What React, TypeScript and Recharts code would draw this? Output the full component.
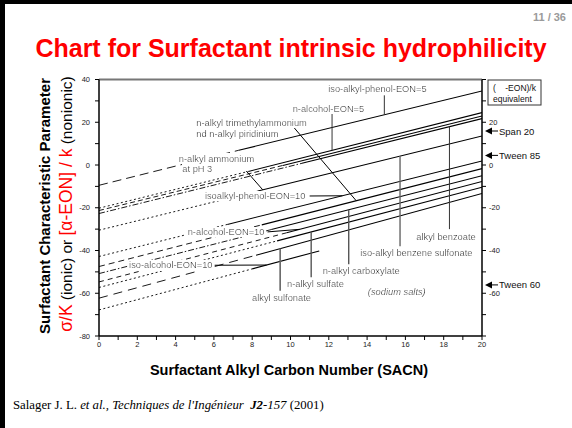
import React from 'react';
import { LineChart, Line, XAxis, YAxis, ReferenceLine, ReferenceDot } from 'recharts';

// ---- line data ----
const seriesNames = [
  'iso-alkyl-phenol-EON=5',
  'n-alcohol-EON=5',
  'n-alkyl piridinium',
  'alkyl benzoate',
  'iso-alkyl benzene sulfonate',
  'isoalkyl-phenol-EON=10',
  'n-alkyl trimethylammonium',
  'n-alkyl carboxylate',
  'n-alcohol-EON=10',
  'n-alkyl sulfate',
  'alkyl sulfonate',
  'iso-alcohol-EON=10',
];
const valueAtZero = [-9.5, -20.2, -21.3, -22.7, -30.5, -42.8, -47.5, -50.8, -54.7, -57.3, -62.3, -67.8];
const solidFromX = [7.3, 7.8, 9.6, 10.6, 8.3, 6.7, 8.5, 9.0, 9.8, 9.3, 8.2, 8.0];
const valueAtSolidFrom = [6.9, -3.0, -0.2, 0.8, -12.2, -27.8, -28.0, -30.2, -31.7, -35.5, -42.2, -48.6];
const solidToX = [20, 20, 20, 20, 20, 20, 20, 20, 20, 20, 20, 11.5];
const valueAtSolidTo = [34.6, 24.5, 22.9, 21.7, 13.6, 1.9, -1.7, -5.0, -7.7, -10.4, -13.3, -40.2];

// ---- annotation texts ----
const labelTexts = [
  'iso-alkyl-phenol-EON=5',
  'n-alcohol-EON=5',
  'n-alkyl trimethylammonium',
  'nd n-alkyl piridinium',
  'n-alkyl ammonium',
  'at pH 3',
  'isoalkyl-phenol-EON=10',
  'n-alcohol-EON=10',
  'iso-alcohol-EON=10',
  'alkyl sulfonate',
  'n-alkyl sulfate',
  'n-alkyl carboxylate',
  'iso-alkyl benzene sulfonate',
  'alkyl benzoate',
  '(sodium salts)',
];
const labelX = [14.54, 11.98, 5.08, 5.08, 4.17, 4.35, 10.78, 8.64, 5.93, 9.53, 11.3, 13.69, 16.57, 18.12, 15.55];
const labelY = [35.4, 26.4, 19.8, 14.7, 3.0, -2.0, -14.5, -31.3, -46.9, -62.4, -55.7, -49.8, -41.3, -33.5, -59.3];

// ---- leader lines ----
const leaderFromX = [14.9, 12.17, 10.04, 7.69, 11.0, 8.8, 6.04, 9.46, 11.08, 13.04, 15.72, 18.3];
const leaderFromY = [32.6, 24.6, 19.0, -2.8, -14.5, -31.3, -46.9, -58.8, -52.5, -46.4, -38.0, -30.0];
const leaderToX = [14.9, 12.17, 13.43, 8.55, 12.71, 10.47, 8.75, 9.46, 11.08, 13.04, 15.72, 18.3];
const leaderToY = [23.5, 6.85, -16.7, -11.6, -14.4, -30.1, -46.8, -39.1, -31.3, -20.9, 4.2, 17.9];

// ---- right-side markers ----
const markerNames = ['Span 20', 'Tween 85', 'Tween 60'];
const markerValues = [15.9, 4.5, -56.1];

// ---- ticks ----
const xTicks = [0, 1, 2, 3, 4, 5, 6, 7, 8, 9, 10, 11, 12, 13, 14, 15, 16, 17, 18, 19, 20];
const xTickLabels = [0, 2, 4, 6, 8, 10, 12, 14, 16, 18, 20];
const yTicks = [-80, -70, -60, -50, -40, -30, -20, -10, 0, 10, 20, 30, 40];
const leftTickLabels = [40, 20, 0, -20, -40, -60, -80];
const rightTickLabels = [20, 0, -20, -40, -60];

// ---- styles (kept apart from data) ----
const extensionDash = ['9 5', '2 2.5', '5 3', '6 2 1.5 2', '2 2.5', '2 2.5', '6 4', '6 2 1.5 2', '5 4', '2 2.5', '9 6', '2 2.5'];
const labelAnchor = ['middle', 'middle', 'start', 'start', 'start', 'start', 'end', 'end', 'end', 'middle', 'middle', 'middle', 'middle', 'middle', 'middle'];
const leaderColor = ['#333', '#333', '#000', '#000', '#000', '#000', '#000', '#666', '#555', '#555', '#666', '#333'];
const leaderWidth = [1, 1, 1, 1, 1, 1, 1, 1.6, 1.4, 1.4, 1.4, 1];

const FONT = '"Liberation Sans", Arial, Helvetica, sans-serif';
const SERIF = '"Liberation Serif", "Times New Roman", serif';

const makeText = (text: string, anchor: string, italic: boolean) => (p: any) => (
  <text
    x={p.cx}
    y={p.cy}
    textAnchor={anchor as any}
    dominantBaseline="central"
    fontSize={9.3}
    fontFamily={FONT}
    fontStyle={italic ? 'italic' : 'normal'}
    fill="#1a1a1a"
    filter="url(#labelBg)"
  >
    {text}
  </text>
);

const makeMarker = (text: string) => (p: any) => (
  <g>
    <polygon
      points={`${p.cx + 3},${p.cy} ${p.cx + 10},${p.cy - 3.5} ${p.cx + 10},${p.cy + 3.5}`}
      fill="#000"
    />
    <line x1={p.cx + 10} y1={p.cy} x2={p.cx + 16} y2={p.cy} stroke="#000" strokeWidth={1} />
    <text x={p.cx + 17} y={p.cy} dominantBaseline="central" fontSize={9.5} fontFamily={FONT} fill="#111">
      {text}
    </text>
  </g>
);

export default function App() {
  const tickStyle = { fontSize: 7.5, fill: '#222', fontFamily: FONT };
  return (
    <div style={{ position: 'absolute', left: 0, top: 0, width: 572, height: 428, background: '#fff', overflow: 'hidden' }}>
      <svg width={0} height={0} style={{ position: 'absolute' }}>
        <defs>
          <filter id="labelBg" x="-0.01" y="0.02" width="1.02" height="0.96">
            <feFlood floodColor="#ffffff" result="bg" />
            <feComposite in="SourceGraphic" in2="bg" operator="over" />
          </filter>
        </defs>
      </svg>
      <div style={{ position: 'absolute', left: 0, top: 0 }}>
        <LineChart width={572} height={428} margin={{ top: 79.5, right: 60, bottom: 72, left: 69 }}>
          <XAxis
            type="number"
            dataKey="x"
            domain={[0, 20]}
            allowDataOverflow
            ticks={xTicks}
            interval={0}
            tickFormatter={(v: number) => (xTickLabels.includes(v) ? String(v) : '')}
            height={20}
            tickSize={4}
            tickMargin={2}
            tick={tickStyle}
            axisLine={{ stroke: '#000', strokeWidth: 1.5 }}
            tickLine={{ stroke: '#000' }}
          />
          <YAxis
            type="number"
            domain={[-80, 40]}
            allowDataOverflow
            ticks={yTicks}
            interval={0}
            tickFormatter={(v: number) => (leftTickLabels.includes(v) ? String(v) : '')}
            width={30}
            tickSize={4}
            tickMargin={5}
            tick={tickStyle}
            axisLine={{ stroke: '#000', strokeWidth: 1.5 }}
            tickLine={{ stroke: '#000' }}
          />
          <YAxis
            yAxisId="right"
            orientation="right"
            type="number"
            domain={[-80, 40]}
            allowDataOverflow
            ticks={yTicks}
            interval={0}
            tickFormatter={(v: number) => (rightTickLabels.includes(v) ? String(v) : '')}
            width={30}
            tickSize={4}
            tickMargin={3}
            tick={tickStyle}
            axisLine={{ stroke: '#000', strokeWidth: 1.5 }}
            tickLine={{ stroke: '#000' }}
          />
          <ReferenceLine y={40} stroke="#777" strokeWidth={2} />

          {seriesNames.map((name, i) => (
            <Line
              key={name + '-ext'}
              name={name + ' (extrapolated)'}
              data={[
                { x: 0, y: valueAtZero[i] },
                { x: solidFromX[i], y: valueAtSolidFrom[i] },
              ]}
              dataKey="y"
              type="linear"
              stroke="#000"
              strokeWidth={0.9}
              strokeDasharray={extensionDash[i]}
              dot={false}
              activeDot={false}
              legendType="none"
              isAnimationActive={false}
            />
          ))}
          {seriesNames.map((name, i) => (
            <Line
              key={name + '-solid'}
              name={name}
              data={[
                { x: solidFromX[i], y: valueAtSolidFrom[i] },
                { x: solidToX[i], y: valueAtSolidTo[i] },
              ]}
              dataKey="y"
              type="linear"
              stroke="#000"
              strokeWidth={1.1}
              dot={false}
              activeDot={false}
              legendType="none"
              isAnimationActive={false}
            />
          ))}

          {leaderFromX.map((fx, i) => (
            <ReferenceLine
              key={'leader-' + i}
              segment={[
                { x: fx, y: leaderFromY[i] },
                { x: leaderToX[i], y: leaderToY[i] },
              ]}
              stroke={leaderColor[i]}
              strokeWidth={leaderWidth[i]}
            />
          ))}

          {labelTexts.map((t, i) => (
            <ReferenceDot
              key={'label-' + i}
              x={labelX[i]}
              y={labelY[i]}
              r={0}
              shape={makeText(t, labelAnchor[i], t === '(sodium salts)')}
            />
          ))}

          {markerNames.map((m, i) => (
            <ReferenceDot
              key={'marker-' + i}
              yAxisId="right"
              x={20}
              y={markerValues[i]}
              r={0}
              ifOverflow="visible"
              shape={makeMarker(m)}
            />
          ))}
        </LineChart>
      </div>

      <svg width={572} height={428} style={{ position: 'absolute', left: 0, top: 0, pointerEvents: 'none' }}>
        <rect x={0} y={0} width={572} height={4} fill="#000" />
        <rect x={0} y={0} width={5} height={428} fill="#000" />
        <text x={566} y={21} textAnchor="end" fontSize={11} fontWeight="bold" fill="#9a9a9a" fontFamily={FONT}>
          11 / 36
        </text>
        <text x={291} y={57} textAnchor="middle" fontSize={25} fontWeight="bold" fill="#ff0000" fontFamily={FONT}>
          Chart for Surfactant intrinsic hydrophilicity
        </text>
        <text
          transform="translate(50,206) rotate(-90)"
          textAnchor="middle"
          fontSize={15}
          fontWeight="bold"
          fill="#000"
          fontFamily={FONT}
        >
          Surfactant Characteristic Parameter
        </text>
        <text transform="translate(72,204) rotate(-90)" textAnchor="middle" fontFamily={FONT} style={{ whiteSpace: 'pre' }}>
          <tspan fill="#ff0000" fontSize={17.5}>{'σ/K'}</tspan>
          <tspan fill="#000" fontSize={15.5}>{' (ionic) or '}</tspan>
          <tspan fill="#ff0000" fontSize={17.5}>{'[α-EON] / k'}</tspan>
          <tspan fill="#000" fontSize={15.5}>{' (nonionic)'}</tspan>
        </text>
        <text x={289} y={375} textAnchor="middle" fontSize={14.5} fontWeight="bold" fill="#000" fontFamily={FONT}>
          Surfactant Alkyl Carbon Number (SACN)
        </text>
        <text x={13} y={409} fontFamily={SERIF} fontSize={12.8} fill="#000" style={{ whiteSpace: 'pre' }}>
          <tspan>{'Salager J. L. '}</tspan>
          <tspan fontStyle="italic">{"et al., Techniques de l'Ingénieur  "}</tspan>
          <tspan fontStyle="italic" fontWeight="bold">{'J2'}</tspan>
          <tspan fontStyle="italic">{'-157'}</tspan>
          <tspan>{' (2001)'}</tspan>
        </text>
        <rect x={488} y={80} width={53} height={25} fill="#fff" stroke="#333" strokeWidth={1} />
        <text x={493} y={91} fontSize={8.5} fontFamily={FONT} fill="#111" style={{ whiteSpace: 'pre' }}>
          {'(    -EON)/k'}
        </text>
        <text x={493} y={101.5} fontSize={8.5} fontFamily={FONT} fill="#111">
          equivalent
        </text>
      </svg>
    </div>
  );
}
